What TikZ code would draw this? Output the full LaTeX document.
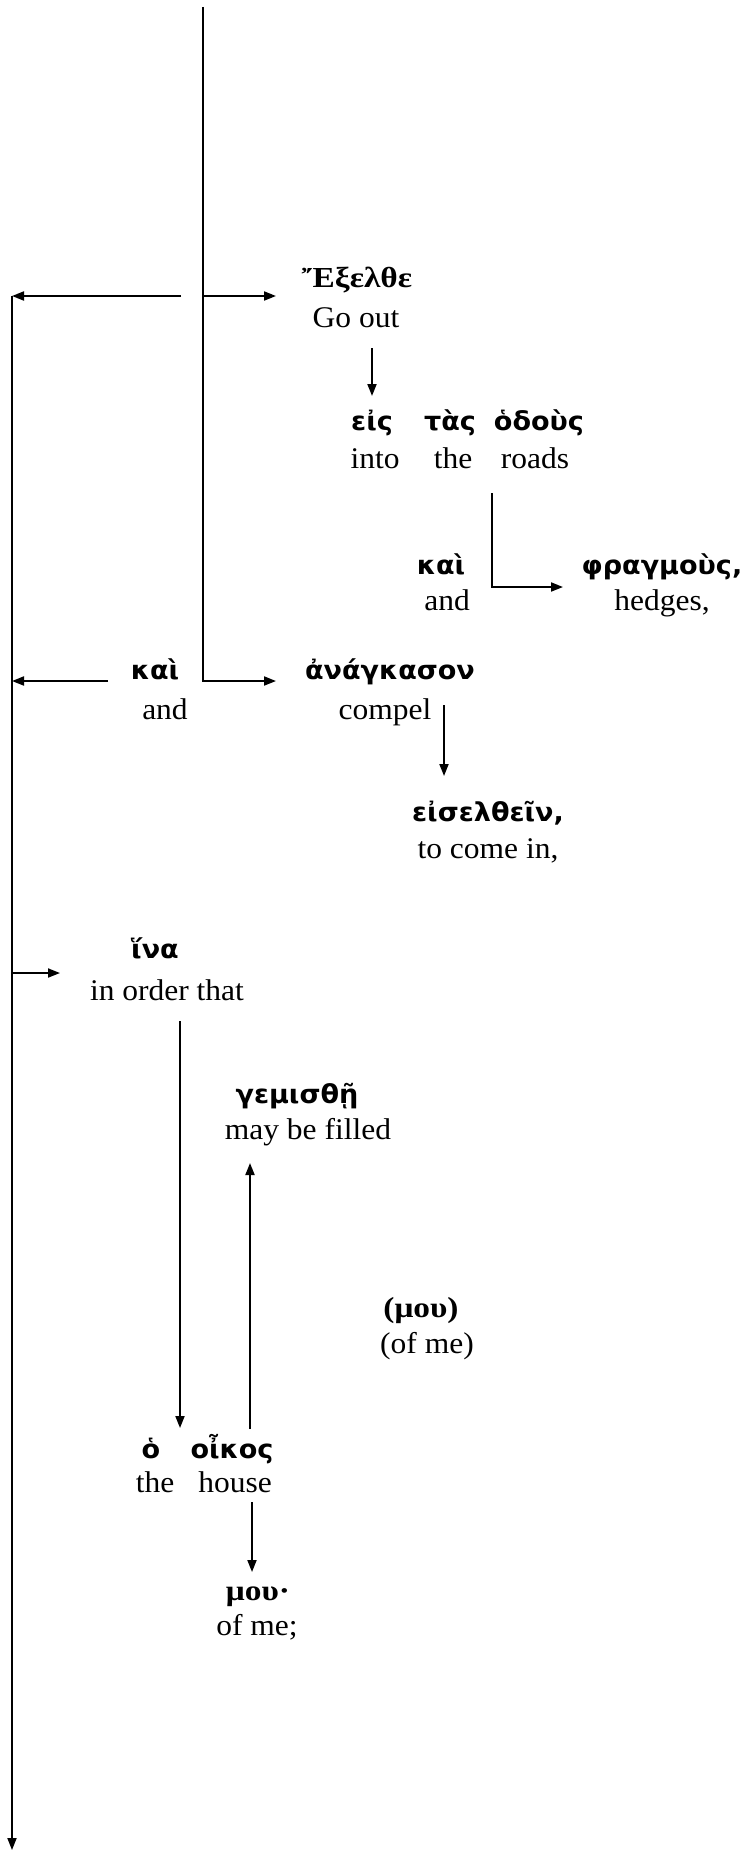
\documentclass[tikz,border=0pt]{standalone}
\usepackage{fontspec}
\usetikzlibrary{arrows.meta}
\newfontfamily\enf[FakeStretch=1.05]{Liberation Serif}
\newfontfamily\grt[FakeStretch=1.15]{Liberation Serif}
\newfontfamily\grs[FakeStretch=1.04]{DejaVu Sans}
\begin{document}
\begin{tikzpicture}[x=1pt,y=-1pt,
  en/.style={anchor=base,inner sep=0pt,font=\enf\fontsize{30}{34}\selectfont},
  gk/.style={anchor=base,inner sep=0pt,font=\grs\bfseries\fontsize{26}{30}\selectfont},
  gt/.style={anchor=base,inner sep=0pt,font=\grt\bfseries\fontsize{29}{33}\selectfont},
  ar/.style={line width=1.8pt,-{Triangle[length=12pt,width=9pt]}}]
\useasboundingbox (0,0) rectangle (751,1851);
% texts
\node[gt] (g1) at (357,288) {Ἔξελθε};
\node[en] (e1) at (356,327) {Go out};
\node[gk] (g2a) at (372,430) {εἰς};
\node[gk] (g2b) at (450,430) {τὰς};
\node[gk] (g2c) at (539,430) {ὁδοὺς};
\node[en] (e2a) at (375,468) {into};
\node[en] (e2b) at (453,468) {the};
\node[en] (e2c) at (535,468) {roads};
\node[gk] (g3) at (441,574) {καὶ};
\node[en] (e3) at (447,610) {and};
\node[gk] (g4) at (662,574) {φραγμοὺς,};
\node[en] (e4) at (662,610) {hedges,};
\node[gk] (g5) at (155,679) {καὶ};
\node[en] (e5) at (165,719) {and};
\node[gk] (g6) at (390,679) {ἀνάγκασον};
\node[en] (e6) at (385,719) {compel};
\node[gk] (g7) at (488,821) {εἰσελθεῖν,};
\node[en] (e7) at (488,858) {to come in,};
\node[gk] (g8) at (155,958) {ἵνα};
\node[en] (e8) at (167,1000) {in order that};
\node[gk] (g9) at (297,1103) {γεμισθῇ};
\node[en] (e9) at (308,1139) {may be filled};
\node[gt] (g10) at (421,1317) {(μου)};
\node[en] (e10) at (427,1353) {(of me)};
\node[gk] (g11a) at (151,1458) {ὁ};
\node[gk] (g11b) at (232,1458) {οἶκος};
\node[en] (e11a) at (155,1492) {the};
\node[en] (e11b) at (235,1492) {house};
\node[gt] (g12) at (258,1600) {μου·};
\node[en] (e12) at (257,1635) {of me;};
% connector points
\coordinate (top) at (203,7);
\coordinate (br1) at (203,296);
\coordinate (br2) at (203,681);
\coordinate (t1) at (276,296);
\coordinate (t2) at (276,681);
\coordinate (l1s) at (181,296);
\coordinate (l1) at (12,296);
\coordinate (l2s) at (108,681);
\coordinate (l2) at (12,681);
\coordinate (l3) at (12,973);
\coordinate (l3t) at (60,973);
\coordinate (lend) at (12,1850);
\coordinate (d1s) at (372,348);
\coordinate (d1e) at (372,396);
\coordinate (h1s) at (492,493);
\coordinate (h1c) at (492,587);
\coordinate (h1e) at (563,587);
\coordinate (d2s) at (444,705);
\coordinate (d2e) at (444,776);
\coordinate (d3s) at (180,1021);
\coordinate (d3e) at (180,1428);
\coordinate (u1s) at (250,1429);
\coordinate (u1e) at (250,1163);
\coordinate (d4s) at (252,1502);
\coordinate (d4e) at (252,1572);
% connectors
\draw[ar] (top) -- (br2) -- (t2);
\draw[ar] (br1) -- (t1);
\draw[ar] (l1s) -- (l1);
\draw[ar] (l1) -- (lend);
\draw[ar] (l2s) -- (l2);
\draw[ar] (l3) -- (l3t);
\draw[ar] (d1s) -- (d1e);
\draw[ar] (h1s) -- (h1c) -- (h1e);
\draw[ar] (d2s) -- (d2e);
\draw[ar] (d3s) -- (d3e);
\draw[ar] (u1s) -- (u1e);
\draw[ar] (d4s) -- (d4e);
\end{tikzpicture}
\end{document}
